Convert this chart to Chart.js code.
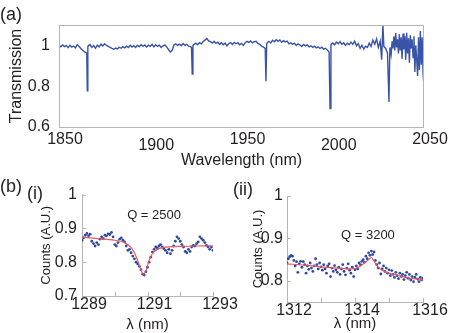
<!DOCTYPE html>
<html>
<head>
<meta charset="utf-8">
<script src="https://cdn.jsdelivr.net/npm/chart.js@4.4.1/dist/chart.umd.min.js"></script>
<style>
body { margin:0; background:#fff; width:463px; height:333px; position:relative; overflow:hidden;
       font-family:"Liberation Sans", Arial, sans-serif; color:#231f20; }
canvas { position:absolute; }
.lbl { position:absolute; font-size:18px; line-height:20px; }
</style>
</head>
<body>
<canvas id="topChart" width="463" height="172" style="left:0;top:0"></canvas>
<canvas id="chartI" width="250" height="153" style="left:0;top:180px"></canvas>
<canvas id="chartII" width="238" height="153" style="left:225px;top:180px"></canvas>
<div class="lbl" style="left:0;top:4px">(a)</div>
<div class="lbl" style="left:0;top:176px">(b)</div>
<div class="lbl" style="left:27px;top:183px">(i)</div>
<div class="lbl" style="left:233px;top:179px">(ii)</div>
<script>
// (a) transmission spectrum
var topWavelength = [
  1850,1851,1852,1853,1854,1855,1856,1857,1858,1859,
  1860,1861,1862,1863,1864,1865,1865.2,1865.5,1865.8,1866,
  1867,1868,1869,1870,1871,1872,1873,1874,1875,1876,
  1877,1878,1879,1880,1881,1882,1883,1884,1885,1886,
  1887,1888,1889,1890,1891,1892,1893,1894,1895,1896,
  1897,1898,1899,1900,1901,1902,1903,1904,1905,1906,
  1907,1908,1909,1910,1911,1912,1913,1914,1915,1916,
  1917,1918,1919,1920,1921,1922,1922.6,1923,1923.4,1924,
  1925,1926,1927,1928,1929,1930,1931,1932,1933,1934,
  1935,1936,1937,1938,1939,1940,1941,1942,1943,1944,
  1945,1946,1947,1948,1949,1950,1951,1952,1953,1954,
  1955,1956,1957,1958,1959,1960,1961,1962,1963,1963.4,
  1963.8,1964,1965,1966,1967,1968,1969,1970,1971,1972,
  1973,1974,1975,1976,1977,1978,1979,1980,1981,1982,
  1983,1984,1985,1986,1987,1988,1989,1990,1991,1992,
  1993,1994,1995,1996,1997,1998,1998.5,1999,2000,2001,
  2002,2003,2004,2005,2006,2007,2008,2009,2010,2011,
  2012,2013,2014,2015,2016,2017,2018,2019,2020,2021,
  2022,2023,2024,2025,2026,2026.8,2027.5,2028,2029,2030,
  2030.8,2031.3,2032,2032.5,2033,2033.5,2034,2034.5,2035,2035.5,
  2036,2036.5,2037,2037.5,2038,2038.5,2039,2039.5,2040,2040.5,
  2041,2041.5,2042,2042.5,2043,2043.5,2044,2044.5,2045,2045.5,
  2046,2046.5,2047,2047.5,2048,2048.5,2049,2049.5,2050
];
var topTransmission = [
  1.000,0.993,1.002,0.994,0.999,0.989,1.001,0.992,0.997,0.988,
  1.004,0.995,0.985,0.976,0.968,0.963,0.960,0.778,0.992,0.998,
  1.004,0.990,0.999,0.986,1.001,0.993,1.006,0.997,1.008,1.000,
  0.995,0.990,0.985,0.981,0.987,0.983,0.991,0.986,0.994,0.988,
  0.996,0.990,1.001,0.992,0.999,0.990,1.001,0.993,1.004,0.995,
  1.002,0.992,1.001,0.995,1.005,0.993,1.003,0.995,1.001,0.990,
  0.998,1.003,0.993,0.980,0.968,0.976,1.002,1.008,1.000,1.006,
  0.998,1.009,1.000,1.005,0.996,0.994,0.990,0.860,1.000,1.005,
  1.011,1.003,1.013,1.008,1.019,1.026,1.034,1.022,1.018,1.011,
  1.020,1.010,1.016,1.005,1.013,1.003,1.011,0.998,1.008,1.014,
  1.005,1.015,1.008,1.013,1.003,1.010,1.000,1.013,1.020,1.015,
  1.022,1.012,1.018,1.020,1.010,1.005,0.996,0.992,0.985,0.824,
  1.005,1.012,1.020,1.012,1.025,1.018,1.028,1.020,1.027,1.015,
  1.023,1.017,1.021,1.008,1.013,1.005,1.011,1.000,1.008,1.002,
  0.995,1.005,0.998,1.003,0.993,0.998,0.990,0.996,0.988,0.993,
  0.985,0.991,0.982,0.986,0.978,0.968,0.690,1.005,1.012,1.003,
  1.016,1.008,1.018,1.005,1.013,1.000,1.011,1.003,1.016,1.005,
  1.021,0.998,1.009,0.985,1.001,0.982,0.996,0.990,1.011,0.995,
  1.026,1.005,1.032,0.990,1.021,0.930,1.100,0.995,0.985,0.962,
  0.723,0.990,0.955,1.020,0.985,1.045,0.975,1.060,0.990,1.030,
  0.960,1.055,0.975,1.040,0.935,1.058,0.980,1.045,0.930,1.062,
  0.960,1.035,0.915,1.050,0.985,1.030,0.940,1.045,0.870,1.000,
  0.930,0.850,1.040,0.880,1.070,0.905,1.040,0.860,0.800
];
var topXTicks = [1850, 1900, 1950, 2000, 2050];
var topXLowered = [1900, 2000];
var topYTicks = [0.6, 0.8, 1];

// (b)(i) measured counts and fit
var iWavelength = [
  1289.00,1289.05,1289.10,1289.15,1289.20,1289.25,1289.30,1289.35,1289.40,1289.45,
  1289.50,1289.55,1289.60,1289.65,1289.70,1289.75,1289.80,1289.85,1289.90,1289.95,
  1290.00,1290.05,1290.10,1290.15,1290.20,1290.25,1290.30,1290.35,1290.40,1290.45,
  1290.50,1290.55,1290.60,1290.65,1290.70,1290.75,1290.80,1290.85,1290.90,1290.95,
  1291.00,1291.05,1291.10,1291.15,1291.20,1291.25,1291.30,1291.35,1291.40,1291.45,
  1291.50,1291.55,1291.60,1291.65,1291.70,1291.75,1291.80,1291.85,1291.90,1291.95,
  1292.00,1292.05,1292.10,1292.15,1292.20,1292.25,1292.30,1292.35,1292.40,1292.45,
  1292.50,1292.55,1292.60,1292.65,1292.70,1292.75,1292.80,1292.85,1292.90,1292.95,
  1293.00
];
var iCounts = [
  0.865,0.872,0.880,0.885,0.878,0.883,0.862,0.855,0.848,0.858,
  0.852,0.868,0.875,0.870,0.880,0.878,0.884,0.882,0.888,0.875,
  0.852,0.848,0.858,0.868,0.872,0.865,0.860,0.848,0.835,0.838,
  0.828,0.818,0.810,0.800,0.795,0.788,0.778,0.765,0.762,0.772,
  0.785,0.800,0.815,0.830,0.838,0.845,0.842,0.848,0.852,0.845,
  0.840,0.835,0.828,0.838,0.825,0.835,0.848,0.862,0.875,0.870,
  0.862,0.852,0.845,0.832,0.828,0.838,0.832,0.845,0.850,0.848,
  0.855,0.860,0.875,0.870,0.865,0.858,0.850,0.845,0.838,0.845,
  0.835
];
var iFitWavelength = [1289.0,1289.5,1290.0,1290.3,1290.5,1290.6,1290.7,1290.8,1290.87,1290.95,1291.05,1291.15,1291.3,1291.5,1292.0,1292.5,1293.0];
var iFitCounts = [0.874,0.870,0.865,0.858,0.843,0.828,0.805,0.778,0.765,0.775,0.805,0.825,0.838,0.844,0.847,0.848,0.848];
var iXTicks = [1289, 1290, 1291, 1292, 1293];
var iXLabels = [1289, 1291, 1293];
var iYTicks = [0.7, 0.8, 0.9, 1];

// (b)(ii)
var iiWavelength = [
  1312.00,1312.04,1312.08,1312.12,1312.16,1312.20,1312.24,1312.28,1312.32,1312.36,1312.40,1312.44,1312.48,
  1312.52,1312.56,1312.60,1312.64,1312.68,1312.72,1312.76,1312.80,1312.84,1312.88,1312.92,1312.96,
  1313.00,1313.04,1313.08,1313.12,1313.16,1313.20,1313.24,1313.28,1313.32,1313.36,1313.40,1313.44,1313.48,
  1313.52,1313.56,1313.60,1313.64,1313.68,1313.72,1313.76,1313.80,1313.84,1313.88,1313.92,1313.96,
  1314.00,1314.04,1314.08,1314.12,1314.16,1314.20,1314.24,1314.28,1314.32,1314.36,1314.40,1314.44,1314.48,
  1314.52,1314.56,1314.60,1314.64,1314.68,1314.72,1314.76,1314.80,1314.84,1314.88,1314.92,1314.96,
  1315.00,1315.04,1315.08,1315.12,1315.16,1315.20,1315.24,1315.28,1315.32,1315.36,1315.40,1315.44,1315.48,
  1315.52,1315.56,1315.60,1315.64,1315.68,1315.72,1315.76,1315.80,1315.84,1315.88,1315.92,1315.96,
  1316.00
];
var iiCounts = [
  0.842,0.852,0.857,0.860,0.858,0.848,0.835,0.845,0.820,0.840,0.846,0.832,0.845,
  0.838,0.818,0.835,0.827,0.842,0.830,0.822,0.835,0.852,0.838,0.828,0.842,
  0.833,0.825,0.838,0.828,0.818,0.835,0.840,0.810,0.830,0.822,0.836,0.826,0.820,
  0.832,0.815,0.828,0.838,0.822,0.814,0.830,0.840,0.825,0.818,0.832,0.810,
  0.826,0.835,0.828,0.842,0.838,0.846,0.850,0.844,0.858,0.852,0.866,0.860,0.870,
  0.862,0.868,0.848,0.838,0.830,0.842,0.816,0.828,0.835,0.822,0.830,0.818,
  0.826,0.812,0.824,0.815,0.808,0.820,0.812,0.805,0.818,0.810,0.815,0.803,0.812,
  0.820,0.806,0.815,0.802,0.810,0.798,0.808,0.815,0.804,0.798,0.808,0.802,
  0.806
];
var iiFitWavelength = [1312.0,1312.5,1313.0,1313.5,1313.9,1314.1,1314.25,1314.4,1314.48,1314.55,1314.65,1314.8,1315.0,1315.3,1315.6,1316.0];
var iiFitCounts = [0.840,0.837,0.833,0.830,0.828,0.832,0.840,0.850,0.855,0.848,0.835,0.825,0.818,0.812,0.806,0.802];
var iiXTicks = [1312, 1313, 1314, 1315, 1316];
var iiXLabels = [1312, 1314, 1316];
var iiYTicks = [0.8, 0.9, 1];

var INK = '#231f20';
var AXIS = '#b5b5b5';
var BLUE = 'rgb(57,84,166)';
var DOT = 'rgb(46,74,160)';
var RED = 'rgb(236,86,96)';
var FONT = '"Liberation Sans", Arial, Helvetica, sans-serif';

function pairs(xs, ys) {
    return xs.map(function (x, k) { return { x: x, y: ys[k] }; });
}
function fixTicks(list) {
    return function (scale) { scale.ticks = list.map(function (v) { return { value: v }; }); };
}

// box around the plot area (panel a)
var framePlugin = {
    id: 'frame',
    afterDraw: function (chart, args, opts) {
        if (!opts.on) return;
        var a = chart.chartArea, ctx = chart.ctx;
        ctx.save();
        ctx.strokeStyle = AXIS;
        ctx.lineWidth = 1;
        ctx.strokeRect(a.left + 0.5, a.top + 0.5, a.right - a.left - 1, a.bottom - a.top);
        ctx.restore();
    }
};

// short tick marks pointing into the plot
var innerTicksPlugin = {
    id: 'innerTicks',
    afterDraw: function (chart, args, opts) {
        if (!opts.x) return;
        var ctx = chart.ctx, a = chart.chartArea;
        var sx = chart.scales.x, sy = chart.scales.y;
        ctx.save();
        ctx.strokeStyle = AXIS;
        ctx.lineWidth = 1;
        ctx.beginPath();
        opts.x.forEach(function (v) {
            var px = Math.round(sx.getPixelForValue(v)) + 0.5;
            ctx.moveTo(px, a.bottom); ctx.lineTo(px, a.bottom - 4);
        });
        opts.y.forEach(function (v) {
            var py = Math.round(sy.getPixelForValue(v)) + 0.5;
            ctx.moveTo(a.left, py); ctx.lineTo(a.left + 4, py);
        });
        ctx.stroke();
        ctx.restore();
    }
};

var qLabelPlugin = {
    id: 'qLabel',
    afterDatasetsDraw: function (chart, args, opts) {
        if (!opts.text) return;
        var ctx = chart.ctx;
        ctx.save();
        ctx.font = '13px ' + FONT;
        ctx.fillStyle = INK;
        ctx.textAlign = 'center';
        ctx.textBaseline = 'middle';
        ctx.fillText(opts.text, chart.scales.x.getPixelForValue(opts.x), chart.scales.y.getPixelForValue(opts.y));
        ctx.restore();
    }
};

Chart.defaults.font.family = FONT;
Chart.defaults.color = INK;

new Chart(document.getElementById('topChart').getContext('2d'), {
    type: 'line',
    data: {
        datasets: [{
            data: pairs(topWavelength, topTransmission),
            borderColor: BLUE,
            borderWidth: 1.4,
            pointRadius: 0,
            tension: 0
        }]
    },
    options: {
        responsive: false,
        animation: false,
        events: [],
        layout: { padding: { left: 0, right: 39, top: 25, bottom: 0 } },
        plugins: { legend: { display: false }, tooltip: { enabled: false }, frame: { on: true } },
        scales: {
            x: {
                type: 'linear', min: 1850, max: 2050,
                afterBuildTicks: fixTicks(topXTicks),
                afterFit: function (s) { s.height = 45; },
                grid: { display: false, drawTicks: false },
                border: { display: false },
                ticks: {
                    autoSkip: false, maxRotation: 0, padding: 3, labelOffset: 6,
                    font: function (c) {
                        var low = c.tick && topXLowered.indexOf(c.tick.value) >= 0;
                        return { size: 16, lineHeight: low ? 1.95 : 1.2 };
                    },
                    callback: function (v) { return String(v); }
                },
                title: { display: true, text: 'Wavelength (nm)', font: { size: 16 }, padding: { top: 0, bottom: 1.5 } }
            },
            y: {
                min: 0.6, max: 1.1,
                afterBuildTicks: fixTicks(topYTicks),
                afterFit: function (s) { s.width = 59; },
                grid: { display: false, drawTicks: false },
                border: { display: false },
                ticks: { padding: 9, font: { size: 16 }, callback: function (v) { return String(v); } },
                title: { display: true, text: 'Transmission', font: { size: 16 }, padding: { top: 7, bottom: 0 } }
            }
        }
    },
    plugins: [framePlugin]
});

function smallPanel(id, o) {
    new Chart(document.getElementById(id).getContext('2d'), {
        type: 'line',
        data: {
            datasets: [{
                data: pairs(o.fitX, o.fitY),
                borderColor: RED,
                borderWidth: 1.2,
                pointRadius: 0,
                tension: 0.3
            }, {
                data: pairs(o.x, o.y),
                showLine: false,
                pointRadius: 1.4,
                pointBorderWidth: 0,
                pointBackgroundColor: DOT,
                pointHoverRadius: 0
            }]
        },
        options: {
            responsive: false,
            animation: false,
            events: [],
            layout: { padding: o.pad },
            plugins: {
                legend: { display: false }, tooltip: { enabled: false },
                innerTicks: { x: o.xTicks, y: o.yTicks },
                qLabel: o.q
            },
            scales: {
                x: {
                    type: 'linear', min: o.xTicks[0], max: o.xTicks[o.xTicks.length - 1],
                    afterBuildTicks: fixTicks(o.xTicks),
                    afterFit: function (s) { s.height = o.xHeight; },
                    grid: { display: false, drawTicks: false },
                    border: { display: true, color: AXIS },
                    ticks: {
                        autoSkip: false, maxRotation: 0, padding: 1, labelOffset: 7,
                        font: { size: 16, lineHeight: 1 },
                        callback: function (v) { return o.xLabels.indexOf(v) >= 0 ? String(v) : ''; }
                    },
                    title: { display: true, text: 'λ (nm)', font: { size: 15, lineHeight: 1.1 }, padding: { top: 0, bottom: o.xTitlePad } }
                },
                y: {
                    min: o.yMin, max: 1,
                    afterBuildTicks: fixTicks(o.yTicks),
                    afterFit: function (s) { s.width = o.yWidth; },
                    grid: { display: false, drawTicks: false },
                    border: { display: true, color: AXIS },
                    ticks: { padding: o.yPad, font: { size: 16 }, callback: function (v) { return String(v); } },
                    title: { display: true, text: 'Counts (A.U.)', font: { size: 13 }, padding: { top: o.yTitlePad, bottom: 0 } }
                }
            }
        },
        plugins: [innerTicksPlugin, qLabelPlugin]
    });
}

smallPanel('chartI', {
    x: iWavelength, y: iCounts, fitX: iFitWavelength, fitY: iFitCounts,
    xTicks: iXTicks, xLabels: iXLabels, yTicks: iYTicks, yMin: 0.7,
    pad: { left: 0, right: 37, top: 14, bottom: 0 },
    xHeight: 37, yWidth: 82, yPad: 5, yTitlePad: 39, xTitlePad: 0,
    q: { text: 'Q = 2500', x: 1291.2, y: 0.938 }
});

smallPanel('chartII', {
    x: iiWavelength, y: iiCounts, fitX: iiFitWavelength, fitY: iiFitCounts,
    xTicks: iiXTicks, xLabels: iiXLabels, yTicks: iiYTicks, yMin: 0.75,
    pad: { left: 0, right: 40, top: 16, bottom: 0 },
    xHeight: 31, yWidth: 62, yPad: 4, yTitlePad: 26, xTitlePad: 1,
    q: { text: 'Q = 3200', x: 1314.38, y: 0.908 }
});
</script>
</body>
</html>
